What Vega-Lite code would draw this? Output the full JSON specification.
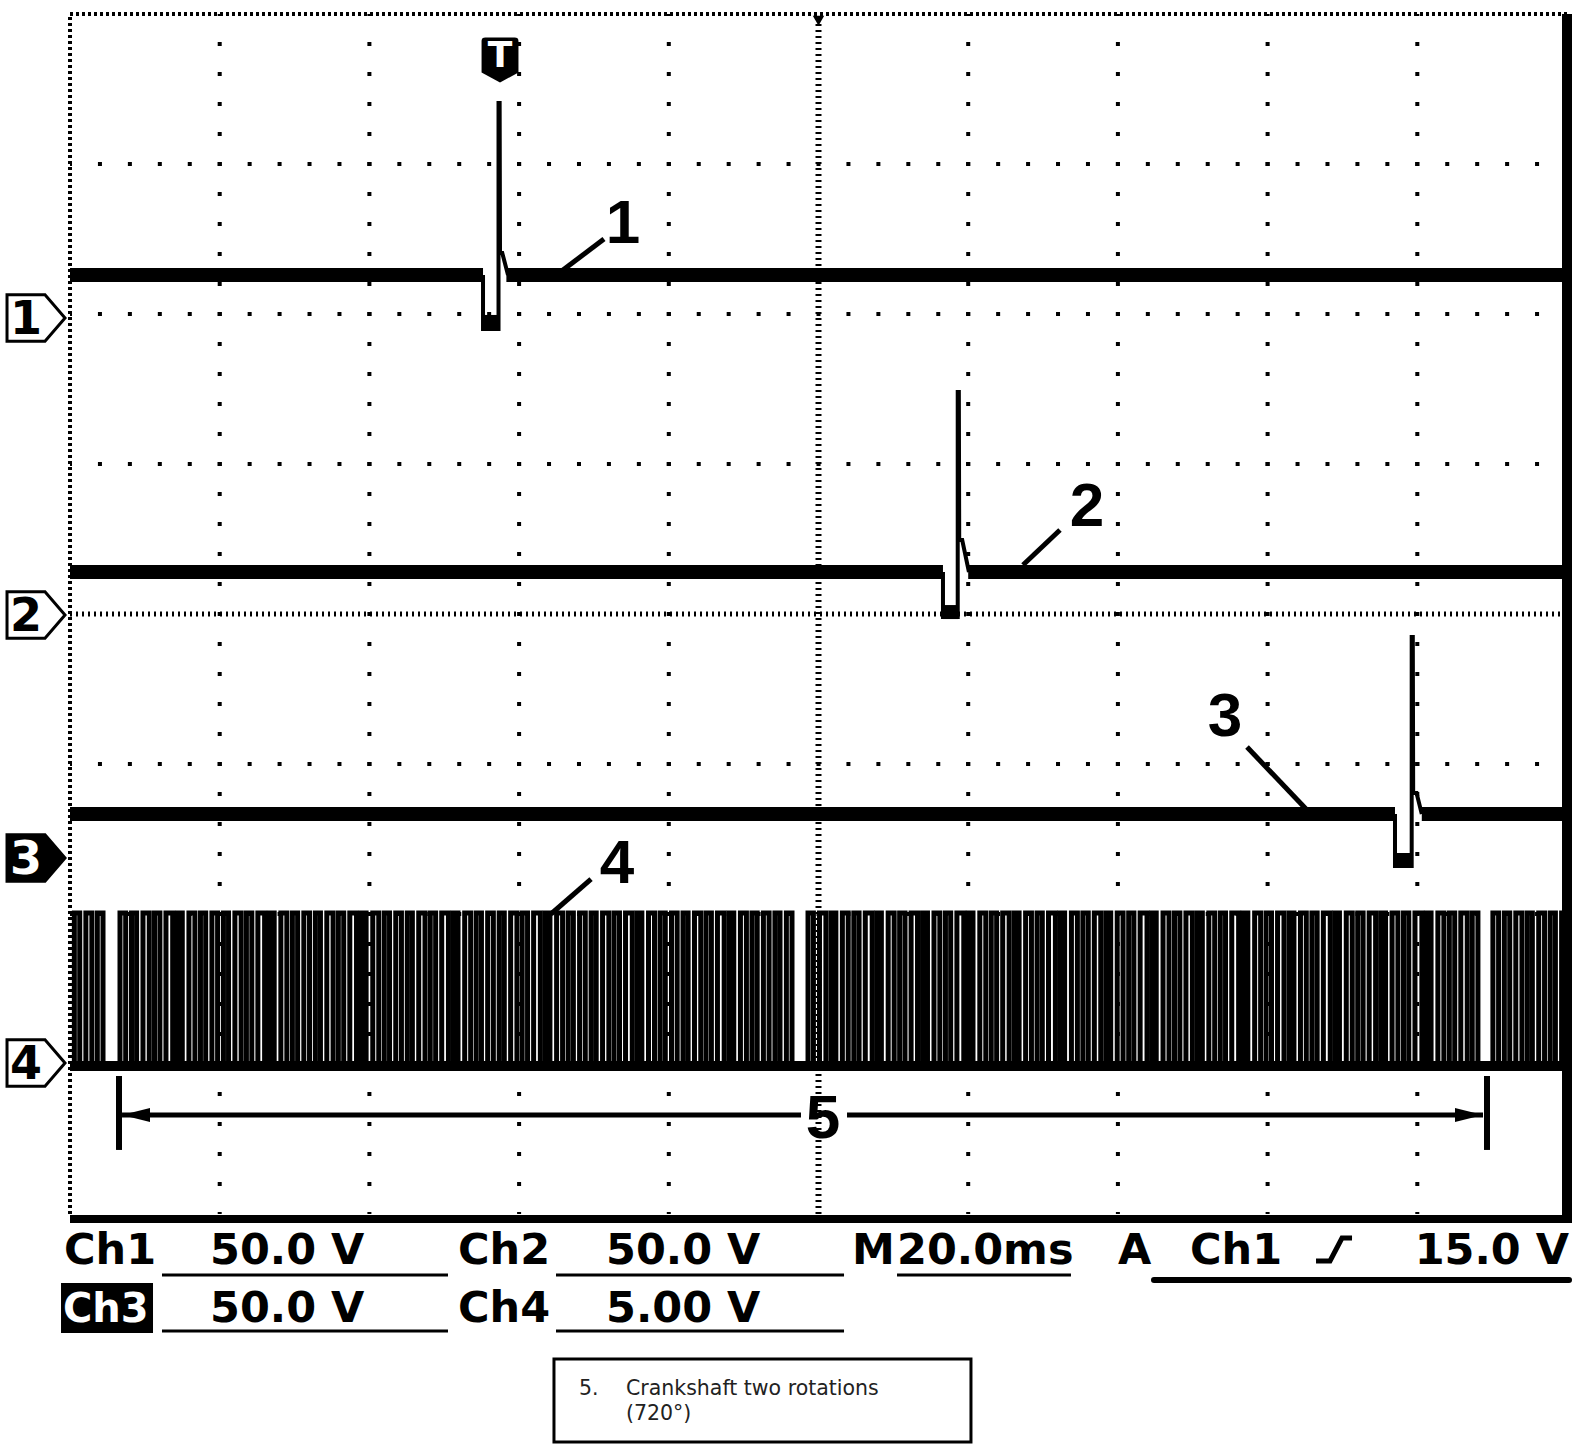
{
  "$schema": "https://vega.github.io/schema/vega-lite/v6.json",
  "width": 1497,
  "height": 1200,
  "autosize": {"type": "none"},
  "padding": {"left": 70, "top": 14, "right": 17, "bottom": 240},
  "background": "white",
  "config": {"view": {"stroke": null}},
  "datasets": {
    "gridx": [{"t": 20}, {"t": 40}, {"t": 60}, {"t": 80}, {"t": 120}, {"t": 140}, {"t": 160}, {"t": 180}],
    "gridy": [{"y": -3}, {"y": -2}, {"y": -1}, {"y": 1}, {"y": 2}, {"y": 3}],
    "base": [
      {"seg": "1a", "t": 0, "y": 2.26}, {"seg": "1a", "t": 55.18, "y": 2.26},
      {"seg": "1d", "t": 55.18, "y": 1.947}, {"seg": "1d", "t": 57.31, "y": 1.947},
      {"seg": "1b", "t": 58.3, "y": 2.26}, {"seg": "1b", "t": 200, "y": 2.26},
      {"seg": "2a", "t": 0, "y": 0.28}, {"seg": "2a", "t": 116.63, "y": 0.28},
      {"seg": "2d", "t": 116.63, "y": 0.013}, {"seg": "2d", "t": 118.64, "y": 0.013},
      {"seg": "2b", "t": 120.0, "y": 0.28}, {"seg": "2b", "t": 200, "y": 0.28},
      {"seg": "3a", "t": 0, "y": -1.333}, {"seg": "3a", "t": 177.02, "y": -1.333},
      {"seg": "3d", "t": 177.02, "y": -1.64}, {"seg": "3d", "t": 179.29, "y": -1.64},
      {"seg": "3b", "t": 180.6, "y": -1.333}, {"seg": "3b", "t": 200, "y": -1.333}
    ],
    "pulse": [
      {"ch": "1", "i": 0, "t": 55.18, "y": 2.26}, {"ch": "1", "i": 1, "t": 55.18, "y": 1.9},
      {"ch": "1", "i": 2, "t": 57.25, "y": 1.9}, {"ch": "1", "i": 3, "t": 57.25, "y": 3.407},
      {"ch": "1", "i": 4, "t": 57.4, "y": 3.407}, {"ch": "1", "i": 5, "t": 57.45, "y": 2.407},
      {"ch": "1", "i": 6, "t": 57.75, "y": 2.407}, {"ch": "1", "i": 7, "t": 58.52, "y": 2.26},
      {"ch": "2", "i": 0, "t": 116.63, "y": 0.28}, {"ch": "2", "i": 1, "t": 116.63, "y": -0.02},
      {"ch": "2", "i": 2, "t": 118.6, "y": -0.02}, {"ch": "2", "i": 3, "t": 118.6, "y": 1.48},
      {"ch": "2", "i": 4, "t": 118.75, "y": 1.48}, {"ch": "2", "i": 5, "t": 118.8, "y": 0.493},
      {"ch": "2", "i": 6, "t": 119.2, "y": 0.493}, {"ch": "2", "i": 7, "t": 120.1, "y": 0.28},
      {"ch": "3", "i": 0, "t": 177.02, "y": -1.333}, {"ch": "3", "i": 1, "t": 177.02, "y": -1.68},
      {"ch": "3", "i": 2, "t": 179.25, "y": -1.68}, {"ch": "3", "i": 3, "t": 179.25, "y": -0.153},
      {"ch": "3", "i": 4, "t": 179.4, "y": -0.153}, {"ch": "3", "i": 5, "t": 179.45, "y": -1.193},
      {"ch": "3", "i": 6, "t": 179.9, "y": -1.193}, {"ch": "3", "i": 7, "t": 180.6, "y": -1.333}
    ],
    "teeth": [
      {"a": 0.58, "b": 1.3}, {"a": 2.12, "b": 2.92}, {"a": 3.65, "b": 4.41},
      {"a": 6.68, "b": 7.44}, {"a": 8.22, "b": 8.9}, {"a": 9.75, "b": 10.59}, {"a": 11.29, "b": 12.01},
      {"a": 12.82, "b": 13.72}, {"a": 14.36, "b": 15.0}, {"a": 15.89, "b": 16.69}, {"a": 17.43, "b": 18.13},
      {"a": 18.96, "b": 19.72}, {"a": 20.5, "b": 21.18}, {"a": 22.03, "b": 22.87}, {"a": 23.57, "b": 24.29},
      {"a": 25.1, "b": 26.0}, {"a": 26.64, "b": 27.28}, {"a": 28.17, "b": 28.97}, {"a": 29.71, "b": 30.41},
      {"a": 31.24, "b": 32.0}, {"a": 32.78, "b": 33.46}, {"a": 34.31, "b": 35.15}, {"a": 35.85, "b": 36.57},
      {"a": 37.38, "b": 38.28}, {"a": 38.92, "b": 39.56}, {"a": 40.45, "b": 41.25}, {"a": 41.99, "b": 42.69},
      {"a": 43.52, "b": 44.28}, {"a": 45.06, "b": 45.74}, {"a": 46.59, "b": 47.43}, {"a": 48.13, "b": 48.85},
      {"a": 49.66, "b": 50.56}, {"a": 51.2, "b": 51.84}, {"a": 52.73, "b": 53.53}, {"a": 54.27, "b": 54.97},
      {"a": 55.8, "b": 56.56}, {"a": 57.34, "b": 58.02}, {"a": 58.87, "b": 59.71}, {"a": 60.41, "b": 61.13},
      {"a": 61.94, "b": 62.84}, {"a": 63.48, "b": 64.12}, {"a": 65.01, "b": 65.81}, {"a": 66.55, "b": 67.25},
      {"a": 68.08, "b": 68.84}, {"a": 69.62, "b": 70.3}, {"a": 71.15, "b": 71.99}, {"a": 72.69, "b": 73.41},
      {"a": 74.22, "b": 75.12}, {"a": 75.76, "b": 76.4}, {"a": 77.29, "b": 78.09}, {"a": 78.83, "b": 79.53},
      {"a": 80.36, "b": 81.12}, {"a": 81.9, "b": 82.58}, {"a": 83.43, "b": 84.27}, {"a": 84.97, "b": 85.69},
      {"a": 86.5, "b": 87.4}, {"a": 88.04, "b": 88.68}, {"a": 89.57, "b": 90.37}, {"a": 91.11, "b": 91.81},
      {"a": 92.64, "b": 93.4}, {"a": 94.18, "b": 94.86}, {"a": 95.71, "b": 96.46},
      {"a": 98.6, "b": 99.32}, {"a": 100.13, "b": 100.99}, {"a": 101.66, "b": 102.32}, {"a": 103.19, "b": 103.97},
      {"a": 104.72, "b": 105.42}, {"a": 106.25, "b": 107.17}, {"a": 107.78, "b": 108.4}, {"a": 109.31, "b": 110.11},
      {"a": 110.84, "b": 111.56}, {"a": 112.37, "b": 113.23}, {"a": 113.9, "b": 114.56}, {"a": 115.43, "b": 116.21},
      {"a": 116.96, "b": 117.66}, {"a": 118.49, "b": 119.41}, {"a": 120.02, "b": 120.64}, {"a": 121.55, "b": 122.35},
      {"a": 123.08, "b": 123.8}, {"a": 124.61, "b": 125.47}, {"a": 126.14, "b": 126.8}, {"a": 127.67, "b": 128.45},
      {"a": 129.2, "b": 129.9}, {"a": 130.73, "b": 131.65}, {"a": 132.26, "b": 132.88}, {"a": 133.79, "b": 134.59},
      {"a": 135.32, "b": 136.04}, {"a": 136.85, "b": 137.71}, {"a": 138.38, "b": 139.04}, {"a": 139.91, "b": 140.69},
      {"a": 141.44, "b": 142.14}, {"a": 142.97, "b": 143.89}, {"a": 144.5, "b": 145.12}, {"a": 146.03, "b": 146.83},
      {"a": 147.56, "b": 148.28}, {"a": 149.09, "b": 149.95}, {"a": 150.62, "b": 151.28}, {"a": 152.15, "b": 152.93},
      {"a": 153.68, "b": 154.38}, {"a": 155.21, "b": 156.13}, {"a": 156.74, "b": 157.36}, {"a": 158.27, "b": 159.07},
      {"a": 159.8, "b": 160.52}, {"a": 161.33, "b": 162.19}, {"a": 162.86, "b": 163.52}, {"a": 164.39, "b": 165.17},
      {"a": 165.92, "b": 166.62}, {"a": 167.45, "b": 168.37}, {"a": 168.98, "b": 169.6}, {"a": 170.51, "b": 171.31},
      {"a": 172.04, "b": 172.76}, {"a": 173.57, "b": 174.43}, {"a": 175.1, "b": 175.76}, {"a": 176.63, "b": 177.41},
      {"a": 178.16, "b": 178.86}, {"a": 179.69, "b": 180.61}, {"a": 181.22, "b": 181.84}, {"a": 182.75, "b": 183.55},
      {"a": 184.28, "b": 185.0}, {"a": 185.81, "b": 186.67}, {"a": 187.34, "b": 188.1},
      {"a": 190.1, "b": 190.86}, {"a": 191.63, "b": 192.35}, {"a": 193.16, "b": 193.98}, {"a": 194.69, "b": 195.37},
      {"a": 196.22, "b": 197.0}, {"a": 197.75, "b": 198.45}, {"a": 199.28, "b": 200.0}
    ],
    "chan": [
      {"ch": "1", "y": 1.973}, {"ch": "2", "y": -0.007}, {"ch": "3", "y": -1.627}, {"ch": "4", "y": -2.993}
    ],
    "nums": [
      {"n": "1", "t": 73.88, "y": 2.6}, {"n": "2", "t": 135.87, "y": 0.713}, {"n": "3", "t": 154.31, "y": -0.687},
      {"n": "4", "t": 73.08, "y": -1.667}, {"n": "5", "t": 100.6, "y": -3.367}
    ],
    "leaders": [
      {"id": "1", "t": 71.34, "y": 2.5}, {"id": "1", "t": 65.33, "y": 2.273},
      {"id": "2", "t": 132.26, "y": 0.56}, {"id": "2", "t": 127.32, "y": 0.327},
      {"id": "3", "t": 157.25, "y": -0.887}, {"id": "3", "t": 165.26, "y": -1.307},
      {"id": "4", "t": 69.61, "y": -1.767}, {"id": "4", "t": 64.26, "y": -2.0}
    ],
    "span": [
      {"id": "L", "t": 6.95, "y": -3.34}, {"id": "L", "t": 97.66, "y": -3.34},
      {"id": "R", "t": 103.81, "y": -3.34}, {"id": "R", "t": 188.78, "y": -3.34}
    ],
    "bars": [
      {"t": 6.55, "y1": -3.08, "y2": -3.573}, {"t": 189.31, "y1": -3.08, "y2": -3.573}
    ],
    "readout": [
      {"t": -0.8, "y": -4.335, "s": "Ch1"}, {"t": 18.7, "y": -4.335, "s": "50.0 V"},
      {"t": 51.84, "y": -4.335, "s": "Ch2"}, {"t": 71.61, "y": -4.335, "s": "50.0 V"},
      {"t": 104.48, "y": -4.335, "s": "M"}, {"t": 110.49, "y": -4.335, "s": "20.0ms"},
      {"t": 140.01, "y": -4.335, "s": "A"}, {"t": 149.63, "y": -4.335, "s": "Ch1"},
      {"t": 18.7, "y": -4.72, "s": "50.0 V"}, {"t": 51.84, "y": -4.72, "s": "Ch4"},
      {"t": 71.61, "y": -4.72, "s": "5.00 V"}
    ],
    "underlines": [
      {"a": 12.29, "b": 50.5, "y": -4.407}, {"a": 64.93, "b": 103.41, "y": -4.407},
      {"a": 110.49, "b": 133.73, "y": -4.407}, {"a": 12.29, "b": 50.5, "y": -4.78},
      {"a": 64.93, "b": 103.41, "y": -4.78}
    ],
    "edge": [
      {"i": 0, "t": 166.47, "y": -4.313}, {"i": 1, "t": 168.34, "y": -4.313},
      {"i": 2, "t": 169.94, "y": -4.16}, {"i": 3, "t": 171.28, "y": -4.16}
    ],
    "caption": [
      {"t": 68.0, "y": -5.167, "s": "5."},
      {"t": 74.28, "y": -5.167, "s": "Crankshaft two rotations"},
      {"t": 74.28, "y": -5.333, "s": "(720°)"}
    ]
  },
  "layer": [
    {
      "data": {"name": "gridx"},
      "mark": {"type": "rule", "color": "black", "strokeWidth": 4, "strokeDash": [4, 26], "strokeDashOffset": 2},
      "encoding": {
        "x": {"field": "t", "type": "quantitative", "scale": {"domain": [0, 200], "nice": false, "zero": false}, "axis": null},
        "y": {"datum": -4, "type": "quantitative", "scale": {"domain": [-4, 4], "nice": false, "zero": false}, "axis": null},
        "y2": {"datum": 4}
      }
    },
    {
      "data": {"name": "gridy"},
      "mark": {"type": "rule", "color": "black", "strokeWidth": 4, "strokeDash": [4, 25.94], "strokeDashOffset": 2},
      "encoding": {
        "x": {"datum": 0, "type": "quantitative", "axis": null}, "x2": {"datum": 200},
        "y": {"field": "y", "type": "quantitative", "axis": null}
      }
    },
    {
      "data": {"values": [{}]},
      "mark": {"type": "rule", "color": "black", "strokeWidth": 6, "strokeDash": [2, 4]},
      "encoding": {
        "x": {"datum": 100, "type": "quantitative", "axis": null},
        "y": {"datum": -4, "type": "quantitative", "axis": null}, "y2": {"datum": 4}
      }
    },
    {
      "data": {"values": [{}]},
      "mark": {"type": "rule", "color": "black", "strokeWidth": 5, "strokeDash": [2, 4]},
      "encoding": {
        "x": {"datum": 0, "type": "quantitative", "axis": null}, "x2": {"datum": 200},
        "y": {"datum": 0, "type": "quantitative", "axis": null}
      }
    },
    {
      "data": {"values": [{}]},
      "mark": {"type": "rule", "color": "black", "strokeWidth": 4, "strokeDash": [3, 3]},
      "encoding": {
        "x": {"datum": 0, "type": "quantitative", "axis": null}, "x2": {"datum": 200},
        "y": {"datum": 4, "type": "quantitative", "axis": null}
      }
    },
    {
      "data": {"values": [{}]},
      "mark": {"type": "rule", "color": "black", "strokeWidth": 4, "strokeDash": [3, 3]},
      "encoding": {
        "x": {"datum": 0, "type": "quantitative", "axis": null},
        "y": {"datum": -4, "type": "quantitative", "axis": null}, "y2": {"datum": 4}
      }
    },
    {
      "data": {"name": "base"},
      "mark": {"type": "line", "color": "black", "strokeWidth": 14, "strokeCap": "butt"},
      "encoding": {
        "x": {"field": "t", "type": "quantitative", "axis": null},
        "y": {"field": "y", "type": "quantitative", "axis": null},
        "detail": {"field": "seg"}
      }
    },
    {
      "data": {"name": "pulse"},
      "mark": {"type": "line", "color": "black", "strokeWidth": 4, "strokeJoin": "miter"},
      "encoding": {
        "x": {"field": "t", "type": "quantitative", "axis": null},
        "y": {"field": "y", "type": "quantitative", "axis": null},
        "detail": {"field": "ch"},
        "order": {"field": "i"}
      }
    },
    {
      "data": {"name": "teeth"},
      "mark": {"type": "rect", "filled": false, "color": "black", "strokeWidth": 5},
      "encoding": {
        "x": {"field": "a", "type": "quantitative", "axis": null},
        "x2": {"field": "b"},
        "y": {"datum": -1.993, "type": "quantitative", "axis": null},
        "y2": {"datum": -3.013}
      }
    },
    {
      "data": {"values": [{}]},
      "mark": {"type": "rule", "color": "black", "strokeWidth": 10},
      "encoding": {
        "x": {"datum": 0, "type": "quantitative", "axis": null}, "x2": {"datum": 200},
        "y": {"datum": -3.013, "type": "quantitative", "axis": null}
      }
    },
    {
      "data": {"values": [{}]},
      "mark": {"type": "rule", "color": "black", "strokeWidth": 10},
      "encoding": {
        "x": {"datum": 200, "type": "quantitative", "axis": null},
        "y": {"datum": -4.06, "type": "quantitative", "axis": null}, "y2": {"datum": 4}
      }
    },
    {
      "data": {"values": [{}]},
      "mark": {"type": "rule", "color": "black", "strokeWidth": 8},
      "encoding": {
        "x": {"datum": 0, "type": "quantitative", "axis": null}, "x2": {"datum": 200.3},
        "y": {"datum": -4.033, "type": "quantitative", "axis": null}
      }
    },
    {
      "data": {"name": "chan"},
      "mark": {"type": "point", "shape": "M-1,-0.8L0.31,-0.8L1,0L0.31,0.8L-1,0.8Z", "size": 3364, "filled": true, "stroke": "black", "strokeWidth": 3, "opacity": 1},
      "encoding": {
        "x": {"datum": -4.54, "type": "quantitative", "axis": null},
        "y": {"field": "y", "type": "quantitative", "axis": null},
        "fill": {"field": "ch", "type": "nominal", "scale": {"domain": ["1", "2", "3", "4"], "range": ["white", "white", "black", "white"]}, "legend": null}
      }
    },
    {
      "data": {"name": "chan"},
      "mark": {"type": "text", "font": "DejaVu Sans", "fontWeight": "bold", "fontSize": 46, "align": "center", "baseline": "middle", "dy": 2},
      "encoding": {
        "x": {"datum": -5.88, "type": "quantitative", "axis": null},
        "y": {"field": "y", "type": "quantitative", "axis": null},
        "text": {"field": "ch"},
        "color": {"field": "ch", "type": "nominal", "scale": {"domain": ["1", "2", "3", "4"], "range": ["black", "black", "white", "black"]}, "legend": null}
      }
    },
    {
      "data": {"values": [{"t": 57.45, "y": 3.693}]},
      "mark": {"type": "point", "shape": "M-0.82,-0.85Q-0.82,-1 -0.65,-1L0.65,-1Q0.82,-1 0.82,-0.85L0.82,0.55L0,1L-0.82,0.55Z", "size": 2025, "filled": true, "color": "black", "opacity": 1},
      "encoding": {
        "x": {"field": "t", "type": "quantitative", "axis": null},
        "y": {"field": "y", "type": "quantitative", "axis": null}
      }
    },
    {
      "data": {"values": [{"t": 57.45, "y": 3.72, "s": "T"}]},
      "mark": {"type": "text", "font": "DejaVu Sans", "fontWeight": "bold", "fontSize": 36, "align": "center", "baseline": "middle", "color": "white"},
      "encoding": {
        "x": {"field": "t", "type": "quantitative", "axis": null},
        "y": {"field": "y", "type": "quantitative", "axis": null},
        "text": {"field": "s"}
      }
    },
    {
      "data": {"values": [{"t": 100, "y": 3.955}]},
      "mark": {"type": "point", "shape": "triangle-down", "size": 130, "filled": true, "color": "black", "opacity": 1},
      "encoding": {
        "x": {"field": "t", "type": "quantitative", "axis": null},
        "y": {"field": "y", "type": "quantitative", "axis": null}
      }
    },
    {
      "data": {"name": "leaders"},
      "mark": {"type": "line", "color": "black", "strokeWidth": 5},
      "encoding": {
        "x": {"field": "t", "type": "quantitative", "axis": null},
        "y": {"field": "y", "type": "quantitative", "axis": null},
        "detail": {"field": "id"}
      }
    },
    {
      "data": {"name": "nums"},
      "mark": {"type": "text", "font": "Liberation Sans", "fontWeight": "bold", "fontSize": 62, "align": "center", "baseline": "middle", "color": "black"},
      "encoding": {
        "x": {"field": "t", "type": "quantitative", "axis": null},
        "y": {"field": "y", "type": "quantitative", "axis": null},
        "text": {"field": "n"}
      }
    },
    {
      "data": {"name": "span"},
      "mark": {"type": "line", "color": "black", "strokeWidth": 5},
      "encoding": {
        "x": {"field": "t", "type": "quantitative", "axis": null},
        "y": {"field": "y", "type": "quantitative", "axis": null},
        "detail": {"field": "id"}
      }
    },
    {
      "data": {"values": [{"t": 8.82, "y": -3.34}]},
      "mark": {"type": "point", "shape": "M-1,0L1,-0.5L1,0.5Z", "size": 784, "filled": true, "color": "black", "opacity": 1},
      "encoding": {
        "x": {"field": "t", "type": "quantitative", "axis": null},
        "y": {"field": "y", "type": "quantitative", "axis": null}
      }
    },
    {
      "data": {"values": [{"t": 186.91, "y": -3.34}]},
      "mark": {"type": "point", "shape": "M1,0L-1,-0.5L-1,0.5Z", "size": 784, "filled": true, "color": "black", "opacity": 1},
      "encoding": {
        "x": {"field": "t", "type": "quantitative", "axis": null},
        "y": {"field": "y", "type": "quantitative", "axis": null}
      }
    },
    {
      "data": {"name": "bars"},
      "mark": {"type": "rule", "color": "black", "strokeWidth": 6},
      "encoding": {
        "x": {"field": "t", "type": "quantitative", "axis": null},
        "y": {"field": "y1", "type": "quantitative", "axis": null},
        "y2": {"field": "y2"}
      }
    },
    {
      "data": {"values": [{"a": -1.2, "b": 11.09, "y1": -4.46, "y2": -4.793}]},
      "mark": {"type": "rect", "color": "black"},
      "encoding": {
        "x": {"field": "a", "type": "quantitative", "axis": null}, "x2": {"field": "b"},
        "y": {"field": "y1", "type": "quantitative", "axis": null}, "y2": {"field": "y2"}
      }
    },
    {
      "data": {"values": [{"t": -0.95, "y": -4.72, "s": "Ch3"}]},
      "mark": {"type": "text", "font": "DejaVu Sans", "fontWeight": "bold", "fontSize": 40, "align": "left", "baseline": "alphabetic", "color": "white"},
      "encoding": {
        "x": {"field": "t", "type": "quantitative", "axis": null},
        "y": {"field": "y", "type": "quantitative", "axis": null},
        "text": {"field": "s"}
      }
    },
    {
      "data": {"name": "readout"},
      "mark": {"type": "text", "font": "DejaVu Sans", "fontWeight": "bold", "fontSize": 43, "align": "left", "baseline": "alphabetic", "color": "black"},
      "encoding": {
        "x": {"field": "t", "type": "quantitative", "axis": null},
        "y": {"field": "y", "type": "quantitative", "axis": null},
        "text": {"field": "s"}
      }
    },
    {
      "data": {"values": [{"t": 200.27, "y": -4.335, "s": "15.0 V"}]},
      "mark": {"type": "text", "font": "DejaVu Sans", "fontWeight": "bold", "fontSize": 43, "align": "right", "baseline": "alphabetic", "color": "black"},
      "encoding": {
        "x": {"field": "t", "type": "quantitative", "axis": null},
        "y": {"field": "y", "type": "quantitative", "axis": null},
        "text": {"field": "s"}
      }
    },
    {
      "data": {"name": "underlines"},
      "mark": {"type": "rule", "color": "black", "strokeWidth": 3},
      "encoding": {
        "x": {"field": "a", "type": "quantitative", "axis": null}, "x2": {"field": "b"},
        "y": {"field": "y", "type": "quantitative", "axis": null}
      }
    },
    {
      "data": {"values": [{"a": 144.82, "b": 200.27, "y": -4.44}]},
      "mark": {"type": "rule", "color": "black", "strokeWidth": 6, "strokeCap": "round"},
      "encoding": {
        "x": {"field": "a", "type": "quantitative", "axis": null}, "x2": {"field": "b"},
        "y": {"field": "y", "type": "quantitative", "axis": null}
      }
    },
    {
      "data": {"name": "edge"},
      "mark": {"type": "line", "color": "black", "strokeWidth": 5},
      "encoding": {
        "x": {"field": "t", "type": "quantitative", "axis": null},
        "y": {"field": "y", "type": "quantitative", "axis": null},
        "order": {"field": "i"}
      }
    },
    {
      "data": {"values": [{"a": 64.66, "b": 120.37, "y1": -4.967, "y2": -5.52}]},
      "mark": {"type": "rect", "fill": "white", "stroke": "black", "strokeWidth": 3},
      "encoding": {
        "x": {"field": "a", "type": "quantitative", "axis": null}, "x2": {"field": "b"},
        "y": {"field": "y1", "type": "quantitative", "axis": null}, "y2": {"field": "y2"}
      }
    },
    {
      "data": {"name": "caption"},
      "mark": {"type": "text", "font": "DejaVu Sans", "fontSize": 20.5, "align": "left", "baseline": "middle", "color": "#222222"},
      "encoding": {
        "x": {"field": "t", "type": "quantitative", "axis": null},
        "y": {"field": "y", "type": "quantitative", "axis": null},
        "text": {"field": "s"}
      }
    }
  ]
}
